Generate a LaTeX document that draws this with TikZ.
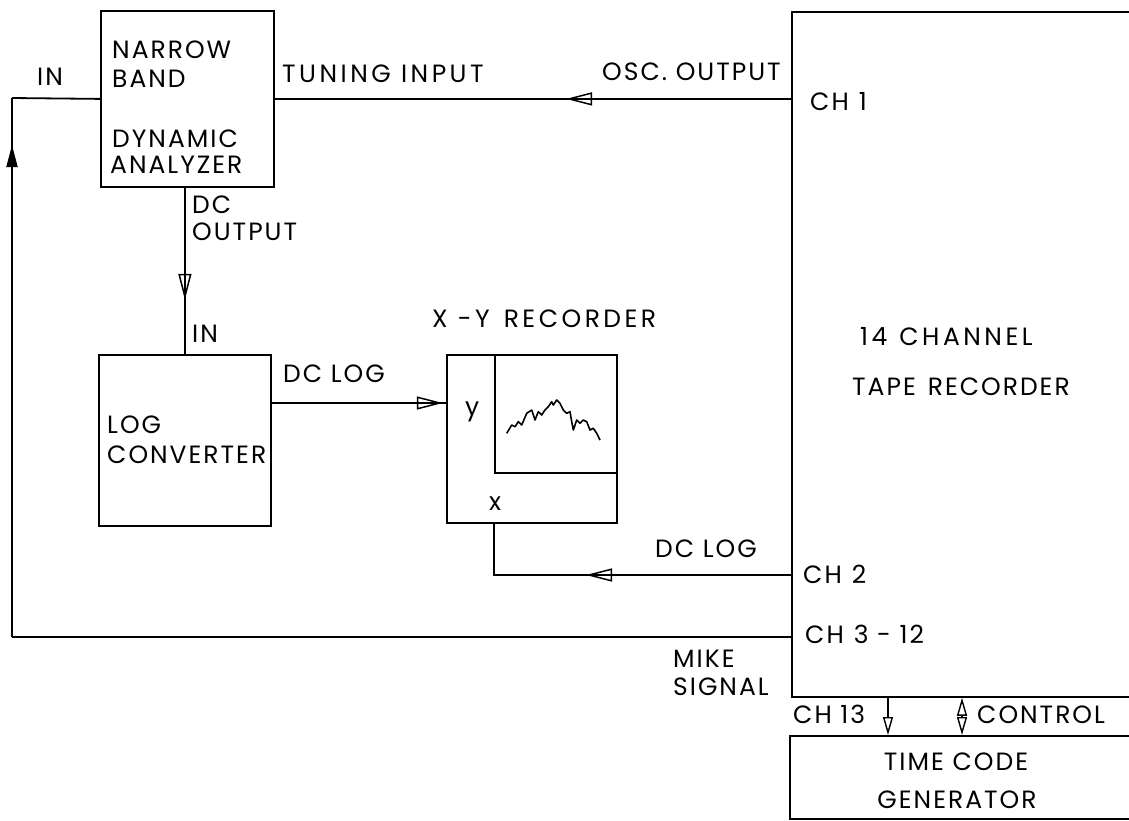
\documentclass[tikz,border=0pt]{standalone}
\usepackage{fontspec}
\setmainfont{Poppins}[LetterSpace=8]
\usetikzlibrary{arrows.meta,decorations.markings}
\tikzset{
  lw/.style={line width=1.8pt},
  box/.style={draw,line width=1.8pt,inner sep=0pt,anchor=north west},
  lbl/.style={inner sep=0pt,font=\fontsize{25}{27}\selectfont,anchor=base west},
  clbl/.style={inner sep=0pt,font=\fontsize{25}{27}\selectfont,anchor=base},
  wide/.style={font=\fontsize{25}{27}\selectfont\addfontfeature{LetterSpace=14}},
  midarrow/.style={postaction={decorate},decoration={markings,
     mark=at position #1 with {\arrow{Triangle[open,length=26pt,width=13pt,line width=1.5pt]}}}},
  fmidarrow/.style={postaction={decorate},decoration={markings,
     mark=at position #1 with {\arrow{Triangle[length=22pt,width=11pt]}}}},
}
\begin{document}
\begin{tikzpicture}[x=1pt,y=-1pt]
\useasboundingbox (0,0) rectangle (1129,820);
\clip (0,0) rectangle (1129,820);
\fill[white] (0,0) rectangle (1129,820);

% boxes
\node[box,minimum width=173pt,minimum height=176pt] (nb) at (100,10) {};
\node[box,minimum width=172pt,minimum height=171pt] (log) at (98,354) {};
\node[box,minimum width=170pt,minimum height=168pt] (xy) at (446,354) {};
\node[box,minimum width=122pt,minimum height=118pt] (chart) at (494,354) {};
\node[box,minimum width=600pt,minimum height=685pt] (tape) at (791,11) {};
\node[box,minimum width=600pt,minimum height=83pt] (tcg) at (789,735) {};

% helper coordinates
\coordinate (lft) at (12,637);
\coordinate (lftt) at (12,98);
\coordinate (yin) at (446,403);
\coordinate (xo) at (494,575);
\coordinate (c13) at (888,0);
\coordinate (cctl) at (962,0);

% connectors
\draw[lw,midarrow=225pt] (tape.west |- nb.east) -- (nb.east);
\draw[lw] (tape.west |- lft) -- (lft);
\draw[lw,fmidarrow=492pt] (lft) -- (lftt);
\draw[lw] (lftt) -- (nb.west);
\draw[lw,midarrow=112pt] (nb.south -| log.north) -- (log.north);
\draw[lw,midarrow=171pt] (log.east |- yin) -- (yin);
\draw[lw,midarrow=205pt] (tape.west |- xo) -- (xo) -- (xo |- xy.south);
\draw[lw,-{Triangle[open,length=18pt,width=10pt,line width=1.4pt]}] (tape.south -| c13) -- (tcg.north -| c13);
\draw[lw,{Triangle[open,length=18pt,width=10pt,line width=1.4pt]}-{Triangle[open,length=18pt,width=10pt,line width=1.4pt]}] (tape.south -| cctl) -- (tcg.north -| cctl);

% chart trace
\draw[line width=1.6pt,line join=round] (506.7,433.3) -- (511.7,425) -- (515,426.7) -- (518.3,421.7) -- (521.7,425) -- (526.7,413.3) -- (531.7,410) -- (535,420) -- (538.3,411.7) -- (541.7,415) -- (545,410) -- (548.3,406.7) -- (551.7,401.7) -- (553.3,405) -- (556.7,400) -- (560,403.3) -- (563.3,410) -- (566.7,413.3) -- (570,411.7) -- (571.7,421.7) -- (573.3,430) -- (576.7,420) -- (580,423.3) -- (583.3,420) -- (586.7,421.7) -- (590,430) -- (593.3,428.3) -- (596.7,433.3) -- (600,440);

% labels
\node[lbl] (tin) at (37,85) {IN};
\node[lbl] (t1) at (112,58) {NARROW};
\node[lbl] (t2) at (112,87) {BAND};
\node[lbl] (t3) at (112,147) {DYNAMIC};
\node[lbl] (t4) at (110,173) {ANALYZER};
\node[lbl,wide] (tti) at (282,82) {TUNING INPUT};
\node[lbl] (tosc) at (602,80) {OSC. OUTPUT};
\node[lbl] (tch1) at (810,110) {CH\hspace{10pt}1};
\node[lbl] (tdc) at (192,213) {DC};
\node[lbl] (tdco) at (192,240) {OUTPUT};
\node[lbl] (tin2) at (192,342) {IN};
\node[lbl] (tdcl) at (283,382) {DC LOG};
\node[lbl,wide] (txyr) at (432,327) {X -Y\hspace{14pt}RECORDER};
\node[lbl] (tlog) at (107,433) {LOG};
\node[lbl] (tconv) at (107,463) {CONVERTER};
\node[lbl] (ty) at (465,415) {y};
\node[lbl] (tx) at (489,510) {x};
\node[lbl,wide] (t14) at (860,345) {14\hspace{12pt}CHANNEL};
\node[lbl] (ttape) at (852,395) {TAPE\hspace{12pt}RECORDER};
\node[lbl] (tdcl2) at (655,557) {DC LOG};
\node[lbl] (tch2) at (803,583) {CH\hspace{10pt}2};
\node[lbl] (tch3) at (805,643) {CH\hspace{10pt}3 - 12};
\node[lbl] (tmike) at (673,667) {MIKE};
\node[lbl] (tsig) at (673,695) {SIGNAL};
\node[lbl] (tch13) at (793,723) {CH 13};
\node[lbl] (tctl) at (977,723) {CONTROL};
\node[clbl] (ttc) at (956,770) {TIME CODE};
\node[clbl] (tgen) at (957,808) {GENERATOR};
\end{tikzpicture}
\end{document}
